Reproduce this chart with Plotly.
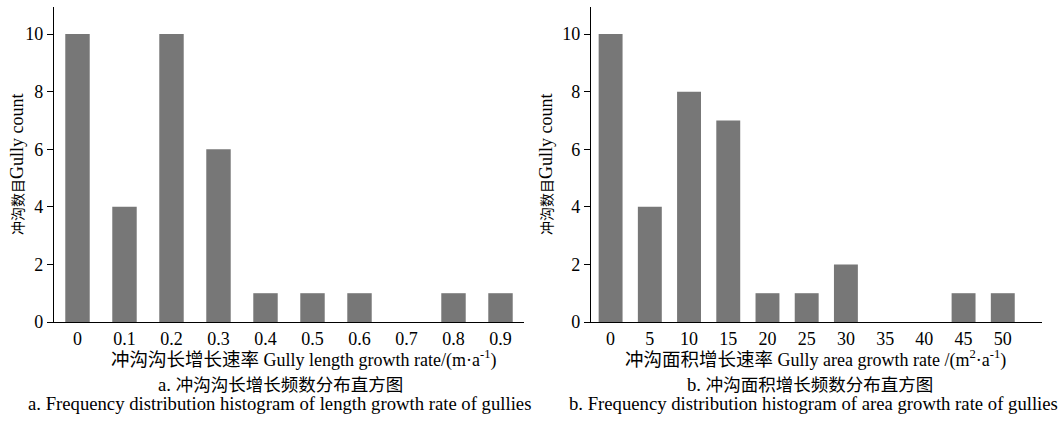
import plotly.graph_objects as go

# Data
len_cats = ["0", "0.1", "0.2", "0.3", "0.4", "0.5", "0.6", "0.7", "0.8", "0.9"]
len_counts = [10, 4, 10, 6, 1, 1, 1, 0, 1, 1]
area_cats = ["0", "5", "10", "15", "20", "25", "30", "35", "40", "45", "50"]
area_counts = [10, 4, 8, 7, 1, 1, 2, 0, 0, 1, 1]
y_ticks = [0, 2, 4, 6, 8, 10]

FONT = "Liberation Serif, Times New Roman, Noto Sans CJK SC, serif"
BAR = "#777777"
W, H = 1064, 421


def px(x):
    return x / W


def py(y):
    return 1 - y / H


def sz(s, size):
    return f'<span style="font-size:{size}px">{s}</span>'


fig = go.Figure()
fig.add_trace(go.Bar(x=len_cats, y=len_counts, width=0.52, xaxis="x", yaxis="y",
                     marker=dict(color=BAR, line=dict(width=0)),
                     showlegend=False))
fig.add_trace(go.Bar(x=area_cats, y=area_counts, width=0.61, xaxis="x2", yaxis="y2",
                     marker=dict(color=BAR, line=dict(width=0)),
                     showlegend=False))

ydom = [py(322), py(7)]
common_x = dict(showline=True, linecolor="black", linewidth=1.3, ticks="",
                showgrid=False, zeroline=False, type="category", automargin=False,
                tickfont=dict(family=FONT, size=18, color="black"))
common_y = dict(showline=True, linecolor="black", linewidth=1.3, ticks="outside",
                ticklen=6, tickcolor="black", tickwidth=1.3, showgrid=False,
                zeroline=False, range=[0, 10.94], tickvals=y_ticks, automargin=False,
                tickfont=dict(family=FONT, size=18, color="black"))

fig.update_layout(
    width=W, height=H,
    margin=dict(l=0, r=0, t=0, b=0),
    paper_bgcolor="white", plot_bgcolor="white",
    font=dict(family=FONT, color="black"),
    xaxis=dict(domain=[px(54), px(524)], range=[-0.5, 9.5], anchor="y", **common_x),
    yaxis=dict(domain=ydom, anchor="x", **common_y),
    xaxis2=dict(domain=[px(591), px(1042)], range=[-0.5, 11.0], anchor="y2", **common_x),
    yaxis2=dict(domain=ydom, anchor="x2", **common_y),
)

ytitle = sz("冲沟数目", 14) + sz("Gully count", 18)
texts = [
    # (x, y, text, angle, size)
    (303, 359, sz("冲沟沟长增长速率", 18.5) + " Gully length growth rate/(m·a<sup>-1</sup>)", 0, 18),
    (815, 359, sz("冲沟面积增长速率", 18.5) + " Gully area growth rate /(m<sup>2</sup>·a<sup>-1</sup>)", 0, 18),
    (280, 384, "a. " + sz("冲沟沟长增长频数分布直方图", 17.5), 0, 18.7),
    (279, 403, "a. Frequency distribution histogram of length growth rate of gullies", 0, 18.7),
    (810, 384, "b. " + sz("冲沟面积增长频数分布直方图", 17.5), 0, 18.7),
    (813, 403, "b. Frequency distribution histogram of area growth rate of gullies", 0, 18.7),
    (17, 164, ytitle, -90, 18),
    (546, 164, ytitle, -90, 18),
]
for cx, cy, txt, ang, fs in texts:
    fig.add_annotation(x=px(cx), y=py(cy), xref="paper", yref="paper",
                       text=txt, showarrow=False, xanchor="center", yanchor="middle",
                       textangle=ang, font=dict(family=FONT, size=fs, color="black"))

fig.write_html("out.html", config={"displayModeBar": False},
               post_script="document.body.style.margin='0';document.body.style.overflow='hidden';")
